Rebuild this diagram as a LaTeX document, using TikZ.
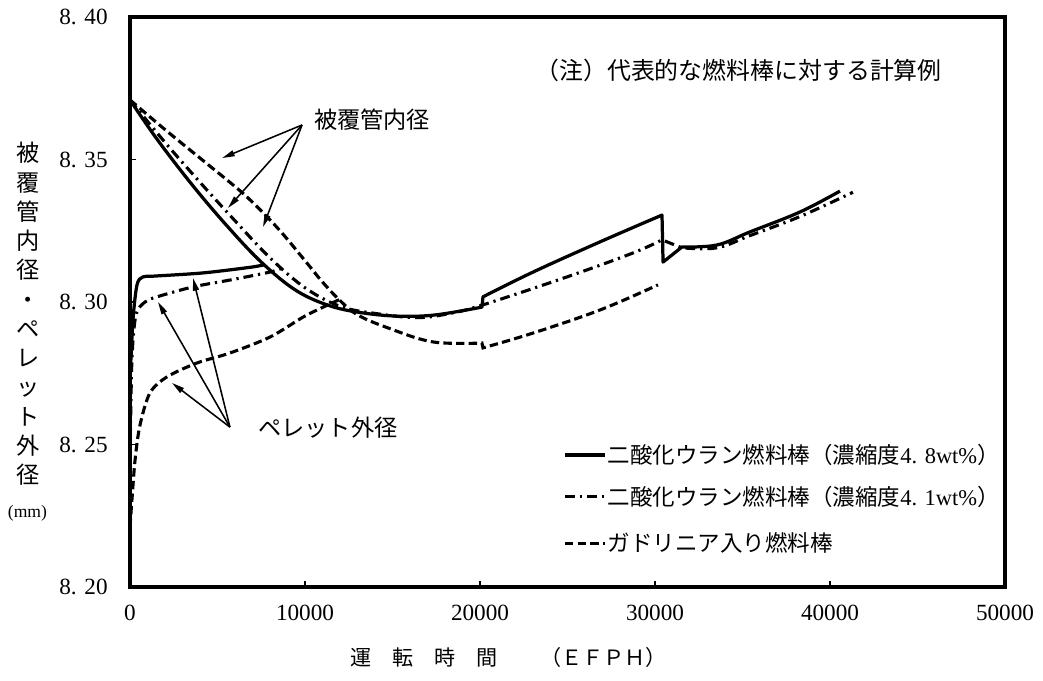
\documentclass[tikz,border=0pt]{standalone}
\usepackage{fontspec}
\setmainfont{Liberation Serif}
\newfontfamily\jp{Noto Sans CJK JP}
\usetikzlibrary{arrows.meta}
\begin{document}
\begin{tikzpicture}[x=0.4375cm, y=0.7125cm,
  uoA/.style={line width=2.3pt, line join=round},
  uoB/.style={line width=2.2pt, dash pattern=on 7pt off 3.5pt on 1.6pt off 3.5pt},
  gdC/.style={line width=2.2pt, dash pattern=on 6pt off 3pt},
  pointer/.style={line width=1.1pt, -{Triangle[length=9pt,width=4.2pt]}},
  jtxt/.style={font=\jp\fontsize{16.5}{20}\selectfont, inner sep=0pt},
  num/.style={font=\fontsize{16.5}{20}\selectfont, inner sep=0pt}]
\useasboundingbox (-7.4286,-3.2982) rectangle (52.1714,20.5965);
\draw[line width=2.2pt] (0,0) rectangle (50,20);
\foreach \t in {10,20,30,40} \draw[line width=1pt] (\t,0) -- (\t,0.22);
\foreach \d in {5,10,15} \draw[line width=1pt] (0,\d) -- (0.36,\d);
\foreach \t/\l in {0/0,10/10000,20/20000,30/30000,40/40000,50/50000}
  \node[num] (xl\t) at (\t,-0.91) {\l};
\foreach \d/\l in {0/8. 20,5/8. 25,10/8. 30,15/8. 35,20/8. 40}
  \node[num, anchor=east] (yl\d) at (-1.26,\d) {\l};
\node[jtxt, align=center, font=\jp\fontsize{16.5}{20.8}\selectfont] (ytitle) at (-5.83,9.58) {被\\覆\\管\\内\\径\\・\\ペ\\レ\\ッ\\ト\\外\\径};
\node[num, font=\fontsize{12.5}{14}\selectfont] (yunit) at (-5.86,2.6) {(mm)};
\node[jtxt, anchor=west, font=\jp\fontsize{15}{18}\selectfont] (xtitle) at (12.57,-2.49) {運　転　時　間　　（ＥＦＰＨ）};
\node[jtxt, anchor=east, font=\jp\fontsize{17}{20}\selectfont] (note) at (46.4,18.14) {（注）代表的な燃料棒に対する計算例};
% 4.8wt%
\draw[uoA] plot[smooth, tension=0.6] coordinates {(0,17.09) (1.5,15.75) (3.5,14.15) (5.5,12.7) (7.5,11.4) (9.5,10.4) (11.5,9.85) (13.5,9.6) (15.5,9.5) (17.5,9.55) (20.11,9.82)}
  -- plot[smooth, tension=0.6] coordinates {(20.17,10.18) (23.03,11.05) (26.86,12.11) (30.4,13.05)}
  -- (30.46,11.40) -- plot[smooth, tension=0.6] coordinates {(31.54,11.93) (33.54,12.0) (35.43,12.46) (38.29,13.16) (40.57,13.89)};
\draw[uoA] plot[smooth, tension=0.5] coordinates {(0,7.26) (0.17,9.37) (0.4,10.6) (0.74,10.88) (1.43,10.91) (4.17,11.02) (6.9,11.22) (7.7,11.31)};
% 4.1wt%
\draw[uoB] plot[smooth, tension=0.6] coordinates {(0,17.09) (2,15.6) (4,14.2) (6,12.85) (8,11.55) (10,10.5) (12,9.85) (14,9.6) (16.4,9.45) (18.3,9.6) (20.17,9.90) (24.97,10.88) (28.74,11.72) (30.4,12.18)}
  -- plot[smooth, tension=0.6] coordinates {(31.54,11.9) (33.54,11.9) (35.43,12.33) (38.29,13.0) (41.31,13.85)};
\draw[uoB] plot[smooth, tension=0.5] coordinates {(0,4.46) (0.11,7.96) (0.34,9.54) (0.86,10.0) (1.54,10.18) (3.6,10.53) (5.71,10.77) (8.0,11.05) (8.69,11.19)};
% Gd
\draw[gdC] plot[smooth, tension=0.6] coordinates {(0,17.09) (2,16.05) (4,15.05) (6,14.05) (7,13.5) (8.5,12.55) (10,11.45) (11,10.7) (12,10.05) (13,9.55) (14.7,9.1) (17.3,8.6) (20.11,8.56)}
  -- plot[smooth, tension=0.6] coordinates {(20.17,8.39) (23.03,8.91) (26.86,9.72) (30.17,10.6)};
\draw[gdC] plot[smooth, tension=0.5] coordinates {(0,2.1) (0.11,3.05) (0.29,4.46) (0.57,5.68) (1.14,6.81) (2.11,7.37) (3.83,7.86) (5.71,8.21) (8.0,8.77) (9.89,9.47) (10.9,9.78) (11.95,10.08)};
\node[jtxt] (clad) at (13.83,16.39) {被覆管内径};
\coordinate (clad0) at (9.83,16.21);
\coordinate (clad1) at (5.26,15.05);
\coordinate (clad2) at (5.6,13.3);
\coordinate (clad3) at (7.6,12.63);
\foreach \i in {1,2,3} \draw[pointer] (clad0) -- (clad\i);
\node[jtxt] (pel) at (11.31,5.58) {ペレット外径};
\coordinate (pel0) at (5.71,5.61);
\coordinate (pel1) at (2.4,7.16);
\coordinate (pel2) at (1.6,10.0);
\coordinate (pel3) at (3.6,10.84);
\foreach \i in {1,2,3} \draw[pointer] (pel0) -- (pel\i);
\coordinate (lgA) at (24.86,4.63);
\coordinate (lgB) at (24.86,3.16);
\coordinate (lgC) at (24.86,1.54);
\draw[uoA] (lgA) -- ++(2.28,0) node[jtxt, anchor=west, xshift=1pt, font=\jp\fontsize{16}{20}\selectfont] (lgAt) {二酸化ウラン燃料棒（濃縮度{\rmfamily 4. 8wt\%}）};
\draw[uoB] (lgB) -- ++(2.28,0) node[jtxt, anchor=west, xshift=1pt, font=\jp\fontsize{16}{20}\selectfont] (lgBt) {二酸化ウラン燃料棒（濃縮度{\rmfamily 4. 1wt\%}）};
\draw[gdC] (lgC) -- ++(2.28,0) node[jtxt, anchor=west, xshift=1pt, font=\jp\fontsize{16}{20}\selectfont] (lgCt) {ガドリニア入り燃料棒};
\end{tikzpicture}
\end{document}
